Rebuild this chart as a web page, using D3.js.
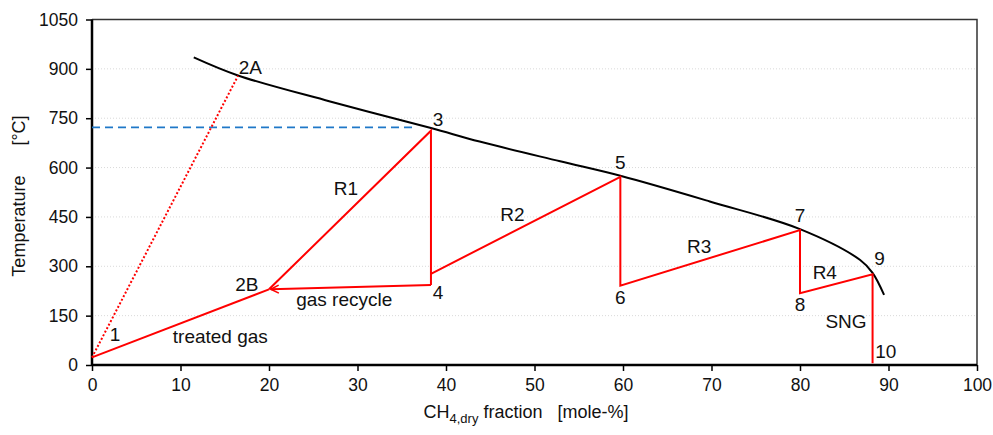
<!DOCTYPE html>
<html><head><meta charset="utf-8">
<script src="https://cdn.jsdelivr.net/npm/d3@7"></script>
<style>
body{margin:0;background:#fff;}
text{font-family:"Liberation Sans",Arial,sans-serif;fill:#111;}
</style></head>
<body><svg id="c" width="993" height="435"></svg>
<script>
// ---- data ----
const xTicks = [0,10,20,30,40,50,60,70,80,90,100];
const yTicks = [0,150,300,450,600,750,900,1050];
// equilibrium curve (CH4 fraction, temperature)
const eqX = [11.5,16.5,26.9,38.3,43.8,52.9,59.7,69.8,80.0,86.8,88.2,89.5];
const eqT = [935,880,801,720,679,619,575,497,413,319,280,213];
// process path
const feedX = [0,20], feedT = [23,230];
const recycleX = [38.3,20.2], recycleT = [243,230];
const r1X = [20,38.3,38.3], r1T = [230,712,243];
const r2X = [38.3,59.7,59.7,80,80,88.2,88.2], r2T = [277,572,241,410,218,276,5];
const adiabX = [0,16.5], adiabT = [23,879];
const limitX = [0,36.3], limitT = [722,722];
const labels = [
  {t:"1",x:2.6,y:73},{t:"treated gas",x:14.5,y:67},{t:"2A",x:17.9,y:885},
  {t:"2B",x:17.5,y:225},{t:"R1",x:28.7,y:517},{t:"3",x:39.1,y:726},
  {t:"gas recycle",x:28.5,y:179},{t:"4",x:39.1,y:200},{t:"R2",x:47.5,y:438},
  {t:"5",x:59.7,y:596},{t:"6",x:59.7,y:185},{t:"R3",x:68.6,y:340},
  {t:"7",x:80,y:435},{t:"R4",x:82.8,y:261},{t:"8",x:80,y:164},
  {t:"9",x:89,y:304},{t:"SNG",x:85.2,y:112},{t:"10",x:89.7,y:21}
];

const svg = d3.select("#c");
const x = d3.scaleLinear().domain([0,100]).range([92,977]);
const y = d3.scaleLinear().domain([0,1050]).range([365,19.5]);

// gridlines
svg.append("g").selectAll("line").data(yTicks.filter(d=>d>0&&d<1050)).join("line")
  .attr("x1",x(0)).attr("x2",x(100)).attr("y1",d=>y(d)).attr("y2",d=>y(d))
  .attr("stroke","#d9d9d9").attr("stroke-width",1).attr("stroke-dasharray","1,2");

// frame top & right
svg.append("path").attr("d",`M${x(0)},${y(1050)}H${x(100)}V${y(0)}`)
  .attr("fill","none").attr("stroke","#333").attr("stroke-width",1.5);

// axes
const xa = svg.append("g").attr("transform",`translate(0,${y(0)})`)
  .call(d3.axisBottom(x).tickValues(xTicks).tickFormat(d3.format("d")).tickSize(6).tickPadding(8));
const ya = svg.append("g").attr("transform",`translate(${x(0)},0)`)
  .call(d3.axisLeft(y).tickValues(yTicks).tickFormat(d3.format("d")).tickSize(6).tickPadding(8));
[xa,ya].forEach(a=>{
  a.select(".domain").attr("stroke","#000").attr("stroke-width",2.5);
  a.selectAll(".tick line").attr("stroke","#000").attr("stroke-width",1.5);
  a.selectAll("text").attr("font-size","17.5px").attr("font-family","Liberation Sans, Arial, sans-serif").attr("fill","#111");
});
xa.selectAll(".domain").attr("d",`M${x(0)},0H${x(100)}`);
ya.selectAll(".domain").attr("d",`M0,${y(0)}V${y(1050)}`);

const line = d3.line().x(d=>x(d[0])).y(d=>y(d[1]));
const zip = (a,b)=>a.map((v,i)=>[v,b[i]]);

// equilibrium curve
svg.append("path").datum(zip(eqX,eqT))
  .attr("d",d3.line().x(d=>x(d[0])).y(d=>y(d[1])).curve(d3.curveCatmullRom.alpha(0.5)))
  .attr("fill","none").attr("stroke","#000").attr("stroke-width",2);

// blue dashed
svg.append("path").datum(zip(limitX,limitT)).attr("d",line)
  .attr("fill","none").attr("stroke","#1f78c8").attr("stroke-width",1.8).attr("stroke-dasharray","8,5");

// adiabatic dotted
svg.append("path").datum(zip(adiabX,adiabT)).attr("d",line)
  .attr("fill","none").attr("stroke","#ff0000").attr("stroke-width",2).attr("stroke-dasharray","2,2");

// arrow marker
svg.append("defs").append("marker").attr("id","arr")
  .attr("viewBox","0 0 10 10").attr("refX",9).attr("refY",5)
  .attr("markerWidth",10).attr("markerHeight",10).attr("markerUnits","userSpaceOnUse")
  .attr("orient","auto")
  .append("path").attr("d","M1,1L9,5L1,9").attr("fill","none").attr("stroke","#ff0000").attr("stroke-width",1.6);

const red = (X,T,w)=>svg.append("path").datum(zip(X,T)).attr("d",line)
  .attr("fill","none").attr("stroke","#ff0000").attr("stroke-width",w||2).attr("stroke-linejoin","miter");
red(feedX,feedT);
red(r1X,r1T);
red(r2X,r2T);
red(recycleX,recycleT).attr("marker-end","url(#arr)");

// labels
svg.append("g").selectAll("text").data(labels).join("text")
  .attr("x",d=>x(d.x)).attr("y",d=>y(d.y)).attr("text-anchor","middle")
  .attr("font-size","19px").text(d=>d.t);

// axis titles
const xt = svg.append("text").attr("x",526).attr("y",418).attr("text-anchor","middle").attr("font-size","18px");
xt.append("tspan").text("CH");
xt.append("tspan").attr("font-size","13px").attr("dy",5).text("4,dry");
xt.append("tspan").attr("dy",-5).text(" fraction\u00a0\u00a0\u00a0[mole-%]");
const yt = svg.append("text").attr("transform","translate(25,196) rotate(-90)").attr("text-anchor","middle")
  .attr("font-size","18px");
yt.append("tspan").text("Temperature");
yt.append("tspan").attr("dx",30).text("[°C]");
</script></body></html>
